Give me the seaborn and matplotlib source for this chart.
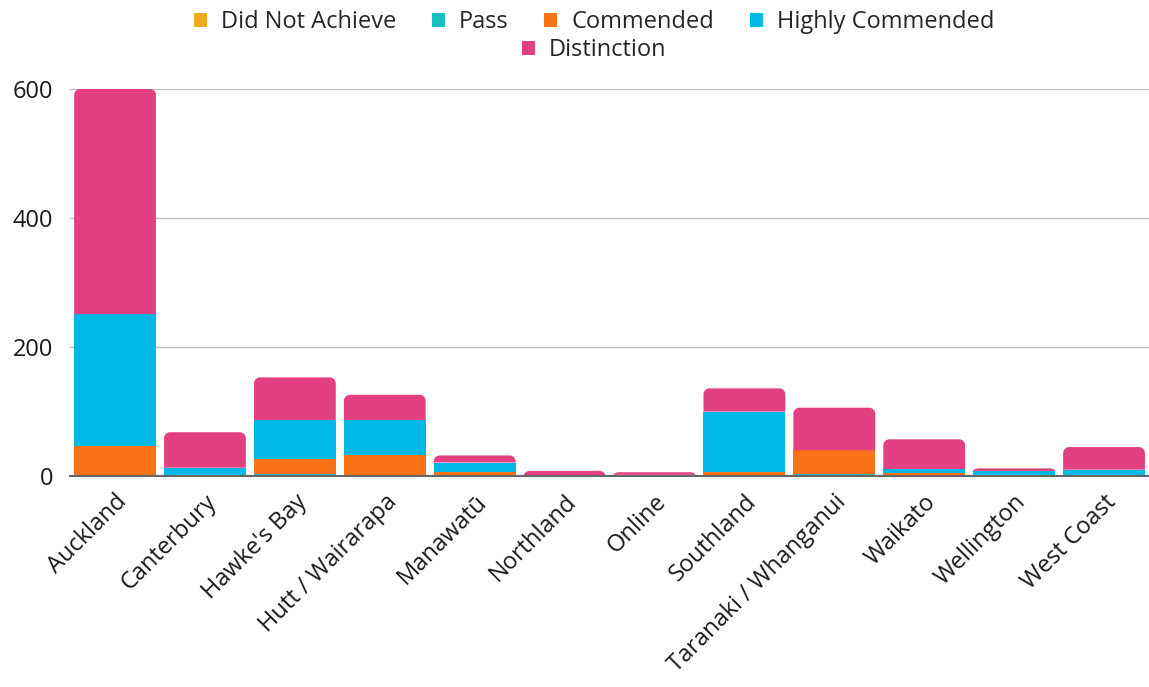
import numpy as np
import pandas as pd
import matplotlib.pyplot as plt
import seaborn as sns
from matplotlib.path import Path
from matplotlib.patches import PathPatch, Patch

# data
regions = ["Auckland", "Canterbury", "Hawke's Bay", "Hutt / Wairarapa", "Manawatū",
           "Northland", "Online", "Southland", "Taranaki / Whanganui", "Waikato",
           "Wellington", "West Coast"]
did_not_achieve = [0, 0, 1, 0, 0, 0, 0, 0, 0, 0, 0, 0]
passed = [1, 0, 3, 0, 0, 0, 0, 0, 4, 0, 0, 0]
commended = [46, 0, 22, 33, 7, 0, 0, 7, 36, 5, 2, 0]
highly_commended = [204, 13, 61, 54, 14, 0, 2, 93, 0, 6, 6, 10]
distinction = [349, 55, 66, 39, 11, 8, 4, 36, 66, 46, 4, 35]

series = ["Did Not Achieve", "Pass", "Commended", "Highly Commended", "Distinction"]
colors = ["#EFAA1F", "#16BFC1", "#F97316", "#00B8E6", "#E24080"]

df = pd.DataFrame({
    "Region": regions,
    "Did Not Achieve": did_not_achieve,
    "Pass": passed,
    "Commended": commended,
    "Highly Commended": highly_commended,
    "Distinction": distinction,
})

sns.set_style("white")
plt.rcParams["font.family"] = ["Open Sans", "DejaVu Sans"]

fig = plt.figure(figsize=(11.49, 6.87), dpi=100)
ax = fig.add_axes([0.061, 0.307, 0.939, 0.5635])

bottom = np.zeros(len(regions))
seg_patches = {}
for name, col in zip(series, colors):
    vals = df[name].values
    n_before = len(ax.patches)
    sns.barplot(data=df, x="Region", y=name, color=col, bottom=bottom,
                width=0.91, ax=ax, saturation=1, linewidth=0, errorbar=None)
    for i, p in enumerate(ax.patches[n_before:]):
        seg_patches.setdefault(i, []).append((p, vals[i]))
    bottom = bottom + vals

ax.set_xlim(-0.5, len(regions) - 0.5)
ax.set_ylim(0, 600)
ax.set_yticks([0, 200, 400, 600])
ax.set_xlabel("")
ax.set_ylabel("")
ax.yaxis.grid(True, color="#BDBDBD", linewidth=1)
ax.set_axisbelow(True)
for s in ["top", "right", "left"]:
    ax.spines[s].set_visible(False)
ax.spines["bottom"].set_color("#666666")
ax.spines["bottom"].set_linewidth(1.5)
ax.tick_params(axis="both", length=0, labelsize=17, colors="#1a1a1a")
ax.tick_params(axis="y", pad=12)
ax.tick_params(axis="x", pad=10)
plt.setp(ax.get_xticklabels(), rotation=45, ha="right", rotation_mode="anchor")

# round the top corners of the top segment of each stack
fig.canvas.draw()
px_x = ax.transData.transform((1, 0))[0] - ax.transData.transform((0, 0))[0]
px_y = ax.transData.transform((0, 1))[1] - ax.transData.transform((0, 0))[1]
r_px = 6
for i, segs in seg_patches.items():
    top = [p for p, v in segs if v > 0]
    if not top:
        continue
    p = top[-1]
    x0, y0 = p.get_x(), p.get_y()
    w, h = p.get_width(), p.get_height()
    rx = r_px / px_x
    ry = min(r_px / px_y, h)
    k = 0.55
    verts = [(x0, y0), (x0, y0 + h - ry),
             (x0, y0 + h - ry + k * ry), (x0 + rx - k * rx, y0 + h), (x0 + rx, y0 + h),
             (x0 + w - rx, y0 + h),
             (x0 + w - rx + k * rx, y0 + h), (x0 + w, y0 + h - ry + k * ry), (x0 + w, y0 + h - ry),
             (x0 + w, y0), (x0, y0)]
    codes = [Path.MOVETO, Path.LINETO,
             Path.CURVE4, Path.CURVE4, Path.CURVE4,
             Path.LINETO,
             Path.CURVE4, Path.CURVE4, Path.CURVE4,
             Path.LINETO, Path.CLOSEPOLY]
    ax.add_patch(PathPatch(Path(verts, codes), facecolor=p.get_facecolor(),
                           linewidth=0, zorder=p.get_zorder()))
    p.set_visible(False)

# legend: four on first row, Distinction centred below
handles = [Patch(facecolor=c, edgecolor="none") for c in colors]
leg_kw = dict(frameon=False, fontsize=17, handlelength=0.55, handleheight=0.55,
              handletextpad=0.6, columnspacing=1.5, borderaxespad=0)
fig.legend(handles[:4], series[:4], ncol=4, loc="center",
           bbox_to_anchor=(0.517, 0.968), **leg_kw)
fig.legend(handles[4:], series[4:], ncol=1, loc="center",
           bbox_to_anchor=(0.517, 0.927), **leg_kw)

fig.savefig("out.png", dpi=100, facecolor="white")
